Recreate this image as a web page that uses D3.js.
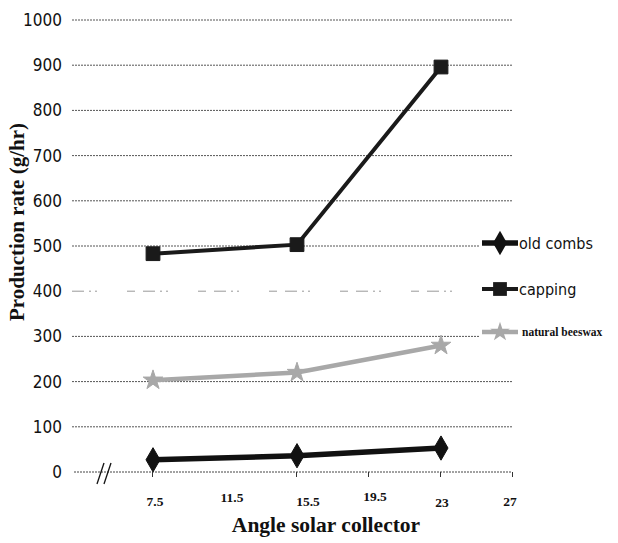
<!DOCTYPE html>
<meta charset="utf-8">
<script src="https://d3js.org/d3.v7.min.js"></script>
<style>
  body { margin: 0; background: #fff; }
</style>
<div id="main"></div>
<script>

var width = 618
var height = 543

// data
var angles = ["7.5", "15.5", "23"]
var oldCombs = [27, 36, 53]
var capping = [483, 503, 896]
var beeswax = [203, 220, 280]
var xTickLabels = ["7.5", "11.5", "15.5", "19.5", "23", "27"]
var yTicks = [0, 100, 200, 300, 400, 500, 600, 700, 800, 900, 1000]
var seriesNames = ["old combs", "capping", "natural beeswax"]

var svg = d3.select("#main")
  .append("svg")
    .attr("width", width)
    .attr("height", height)

var y = d3.scaleLinear().domain([0, 1000]).range([472, 20])
var x = d3.scalePoint().domain(angles).range([81, 513]).padding(0.5)
// tick labels sit on half steps of the category axis
var xi = d3.scaleLinear().domain([-0.5, 2.5]).range([81, 513])

// grid lines, dotted
svg.append("g")
  .selectAll("line")
  .data(yTicks.filter(d => d > 0))
  .enter()
  .append("line")
    .attr("x1", 72)
    .attr("x2", 512)
    .attr("y1", d => y(d))
    .attr("y2", d => y(d))
    .attr("stroke", d => d == 400 ? "#999" : "#555")
    .attr("stroke-width", 1)
    .attr("stroke-dasharray", d => d == 400 ? "12,5,2,4,2,30,8,8" : "2,1")

// y tick labels
svg.append("g")
  .selectAll("text")
  .data(yTicks)
  .enter()
  .append("text")
    .attr("x", 62)
    .attr("y", d => y(d) + 6)
    .attr("text-anchor", "end")
    .style("font-family", "'DejaVu Sans Condensed', 'Liberation Sans Narrow', sans-serif")
    .style("font-stretch", "condensed")
    .style("font-size", "17px")
    .style("fill", "#111")
    .text(d => d)

// x axis line
svg.append("line")
  .attr("x1", 74).attr("x2", 512)
  .attr("y1", y(0)).attr("y2", y(0))
  .attr("stroke", "#444")
  .attr("stroke-dasharray", "2,1")

// small ticks under the axis
var tickIdx = [0, 1, 1.5, 2, 2.5]
svg.append("g")
  .selectAll("line")
  .data(tickIdx)
  .enter()
  .append("line")
    .attr("x1", d => xi(d) - 0.5)
    .attr("x2", d => xi(d) - 0.5)
    .attr("y1", y(0))
    .attr("y2", y(0) + 5)
    .attr("stroke", "#333")

// axis break marks
svg.append("g")
  .selectAll("line")
  .data([0, 7])
  .enter()
  .append("line")
    .attr("x1", d => 97 + d)
    .attr("x2", d => 104 + d)
    .attr("y1", y(0) + 12)
    .attr("y2", y(0) - 9)
    .attr("stroke", "#111")
    .attr("stroke-width", 1.3)

// x tick labels
var nudge = [2, 7, 11, 6, 1, -3]
var nudgeY = [0, -4, 0, -5, 1, 0]
svg.append("g")
  .selectAll("text")
  .data(xTickLabels)
  .enter()
  .append("text")
    .attr("x", (d, i) => xi(i * 0.5) + nudge[i])
    .attr("y", (d, i) => 506 + nudgeY[i])
    .attr("text-anchor", "middle")
    .style("font-family", "'Liberation Serif', 'Times New Roman', serif")
    .style("font-weight", "bold")
    .style("font-size", "13.5px")
    .style("fill", "#111")
    .text(d => d)

// axis titles
svg.append("text")
  .attr("transform", "translate(24,222) rotate(-90)")
  .attr("text-anchor", "middle")
  .style("font-family", "'Liberation Serif', 'Times New Roman', serif")
  .style("font-weight", "bold")
  .style("font-size", "21px")
  .style("fill", "#111")
  .text("Production rate (g/hr)")

svg.append("text")
  .attr("x", 326)
  .attr("y", 532)
  .attr("text-anchor", "middle")
  .style("font-family", "'Liberation Serif', 'Times New Roman', serif")
  .style("font-weight", "bold")
  .style("font-size", "21.5px")
  .style("fill", "#111")
  .text("Angle solar collector")

var line = d3.line()
  .x((d, i) => x(angles[i]))
  .y(d => y(d))

var series = [
  { name: seriesNames[0], values: oldCombs, color: "#111", width: 5.5, shape: d3.symbolDiamond, size: 170 },
  { name: seriesNames[1], values: capping, color: "#1a1a1a", width: 4, shape: d3.symbolSquare, size: 190 },
  { name: seriesNames[2], values: beeswax, color: "#a8a8a8", width: 4.5, shape: d3.symbolStar, size: 120 }
]

series.forEach(function(s) {
  svg.append("path")
    .datum(s.values)
    .attr("d", line)
    .attr("fill", "none")
    .attr("stroke", s.color)
    .attr("stroke-width", s.width)

  svg.append("g")
    .selectAll("path")
    .data(s.values)
    .enter()
    .append("path")
      .attr("d", d3.symbol().type(s.shape).size(s.size))
      .attr("transform", (d, i) => "translate(" + x(angles[i]) + "," + y(d) + ")")
      .attr("fill", s.color)
      .attr("stroke", s.color)
      .attr("stroke-width", 1)
})

// legend
var legendY = [243, 289, 332]
var legend = svg.append("g")
  .selectAll("g")
  .data(series)
  .enter()
  .append("g")
    .attr("transform", (d, i) => "translate(0," + legendY[i] + ")")

legend.append("rect")
  .attr("x", 480)
  .attr("y", -8)
  .attr("width", 140)
  .attr("height", 16)
  .attr("fill", "#fff")

legend.append("line")
  .attr("x1", 482)
  .attr("x2", 518)
  .attr("stroke", d => d.color)
  .attr("stroke-width", d => d.width)

legend.append("path")
  .attr("d", d => d3.symbol().type(d.shape).size(d.size)())
  .attr("transform", "translate(500,0)")
  .attr("fill", d => d.color)

legend.append("text")
  .attr("x", (d, i) => i == 2 ? 522 : 519)
  .attr("y", (d, i) => i == 2 ? 4 : 6)
  .style("font-family", (d, i) => i == 2 ? "'Liberation Serif', serif" : "'DejaVu Sans Condensed', 'Liberation Sans Narrow', sans-serif")
  .style("font-stretch", (d, i) => i == 2 ? "normal" : "condensed")
  .style("font-weight", (d, i) => i == 2 ? "bold" : "normal")
  .style("font-size", (d, i) => i == 2 ? "11.5px" : "16px")
  .style("fill", "#111")
  .text(d => d.name)

</script>
